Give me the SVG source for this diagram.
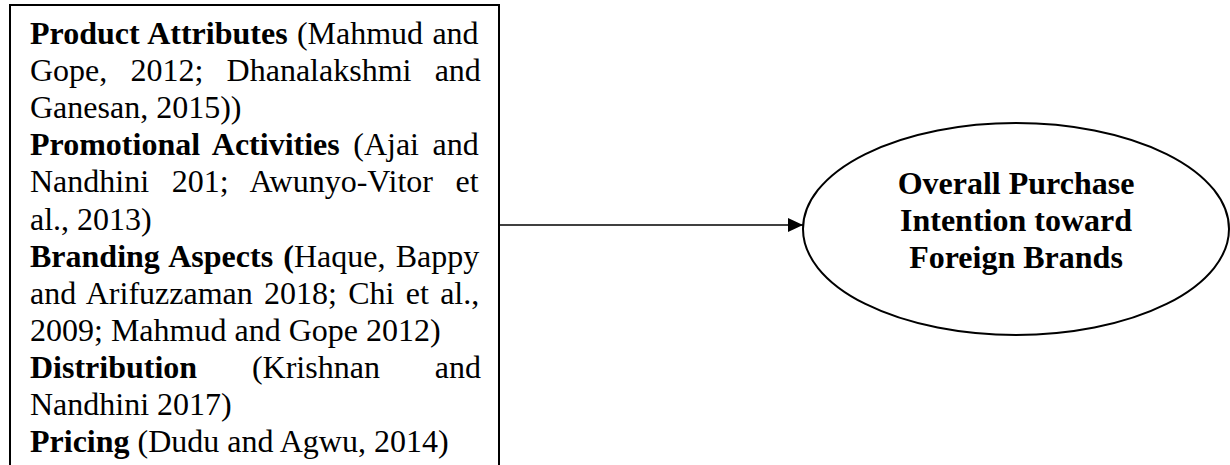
<svg xmlns="http://www.w3.org/2000/svg" width="1230" height="465" viewBox="0 0 1230 465">
  <style>
    text { font-family: "Liberation Serif", "Times New Roman", serif; font-size: 32px; fill: #000; }
    .b { font-weight: bold; }
    .shape { fill: #fff; stroke: #000; stroke-width: 2; }
    .conn { stroke: #000; stroke-width: 1.4; fill: none; }
  </style>
  <defs>
    <marker id="arrow" markerUnits="userSpaceOnUse" markerWidth="16" markerHeight="16" refX="15" refY="7" orient="auto">
      <polygon points="0,0 15,7 0,14" fill="#000"/>
    </marker>
  </defs>
  <rect width="1230" height="465" fill="#fff"/>

  <!-- factors box (open at the bottom edge) -->
  <g id="factors">
    <path class="shape" d="M10,470 V5 H499 V470"/>
    <text x="30" y="44" style="word-spacing:1.3px"><tspan class="b">Product Attributes</tspan> (Mahmud and</text>
    <text x="30" y="81.1" style="word-spacing:15.2px">Gope, 2012; Dhanalakshmi and</text>
    <text x="30" y="118.2">Ganesan, 2015))</text>
    <text x="30" y="155.3" style="word-spacing:5.5px"><tspan class="b">Promotional Activities</tspan> (Ajai and</text>
    <text x="30" y="192.4" style="word-spacing:14.6px">Nandhini 201; Awunyo-Vitor et</text>
    <text x="30" y="229.5">al., 2013)</text>
    <text x="30" y="266.6" style="word-spacing:2.2px"><tspan class="b">Branding Aspects (</tspan>Haque, Bappy</text>
    <text x="30" y="303.7" style="word-spacing:3.3px">and Arifuzzaman 2018; Chi et al.,</text>
    <text x="30" y="340.8">2009; Mahmud and Gope 2012)</text>
    <text x="30" y="377.9" style="word-spacing:46.8px"><tspan class="b">Distribution</tspan> (Krishnan and</text>
    <text x="30" y="415">Nandhini 2017)</text>
    <text x="30" y="452.1"><tspan class="b">Pricing</tspan> (Dudu and Agwu, 2014)</text>
  </g>

  <!-- outcome ellipse -->
  <g id="outcome">
    <ellipse class="shape" cx="1016" cy="229" rx="213" ry="106"/>
    <text class="b" x="1016" y="194" text-anchor="middle">Overall Purchase</text>
    <text class="b" x="1016" y="231" text-anchor="middle">Intention toward</text>
    <text class="b" x="1016" y="268" text-anchor="middle">Foreign Brands</text>
  </g>

  <!-- connectors -->
  <g id="connectors">
    <line class="conn" x1="499" y1="225" x2="803" y2="225" marker-end="url(#arrow)"/>
  </g>
</svg>
